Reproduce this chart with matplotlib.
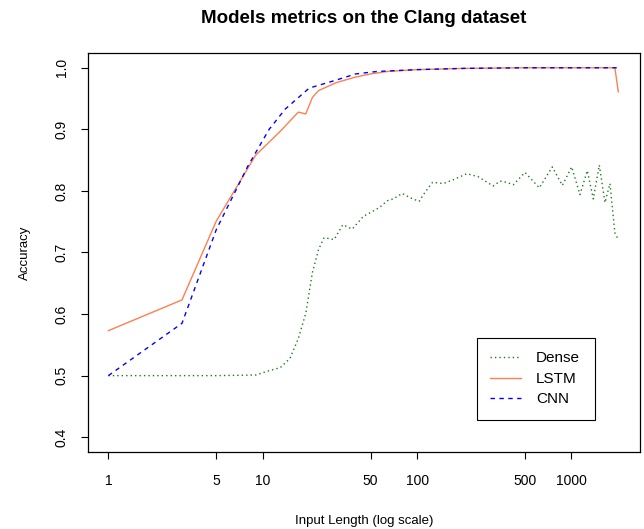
import matplotlib
matplotlib.use("Agg")
import matplotlib.pyplot as plt

plt.rcParams['font.family'] = ['Liberation Sans', 'DejaVu Sans']

# input lengths and accuracies
dense_len = [1, 3, 5, 9, 11, 13, 15, 17, 19, 21, 23, 25, 29, 33, 38, 45,
             50, 57, 64, 70, 80, 90, 103, 112, 126, 148, 171, 210, 249, 311,
             345, 380, 420, 500, 619, 751, 872, 1003, 1135, 1266, 1384,
             1514, 1648, 1775, 1910, 2010]
dense_acc = [0.500, 0.500, 0.500, 0.501, 0.508, 0.513, 0.528, 0.560, 0.601,
             0.668, 0.705, 0.724, 0.721, 0.745, 0.738, 0.759, 0.765, 0.773,
             0.784, 0.787, 0.796, 0.789, 0.783, 0.797, 0.814, 0.812, 0.818,
             0.828, 0.823, 0.808, 0.816, 0.814, 0.810, 0.830, 0.805, 0.839,
             0.809, 0.839, 0.794, 0.833, 0.787, 0.842, 0.781, 0.812, 0.732,
             0.721]

lstm_len = [1, 3, 5, 9, 13, 17, 19, 21, 23, 30, 40, 50, 64, 100, 200, 500,
            1910, 2010]
lstm_acc = [0.573, 0.623, 0.751, 0.858, 0.897, 0.928, 0.925, 0.952, 0.963,
            0.976, 0.985, 0.990, 0.994, 0.997, 0.999, 1.000, 1.000, 0.961]

cnn_len = [1, 3, 5, 8, 11, 14, 20, 29, 40, 55, 100, 200, 500, 2010]
cnn_acc = [0.500, 0.585, 0.737, 0.840, 0.900, 0.933, 0.967, 0.979, 0.990,
           0.994, 0.997, 0.999, 1.000, 1.000]

xticks = [1, 5, 10, 50, 100, 500, 1000]
yticks = [0.4, 0.5, 0.6, 0.7, 0.8, 0.9, 1.0]

fig = plt.figure(figsize=(6.44, 5.29), dpi=100)
ax = fig.add_axes([0.1366, 0.1456, 0.857, 0.7542])

ax.plot(dense_len, dense_acc, color="#1a7a1a", lw=1.0, dashes=(1, 2.2), label="Dense")
ax.plot(lstm_len, lstm_acc, color="coral", lw=1.0, label="LSTM")
ax.plot(cnn_len, cnn_acc, color="blue", lw=1.0, dashes=(3.2, 3.2), label="CNN")

ax.set_xscale("log")
ax.set_xlim(10 ** -0.132, 10 ** 3.443)
ax.set_ylim(0.376, 1.024)
ax.set_xticks(xticks)
ax.set_xticklabels([str(t) for t in xticks])
ax.minorticks_off()
ax.set_yticks(yticks)
ax.set_yticklabels(["%.1f" % t for t in yticks], rotation=90, va="center")
ax.tick_params(axis="x", length=5, width=0.8, pad=11, labelsize=10)
ax.tick_params(axis="y", length=5, width=0.8, pad=9, labelsize=10)
for s in ax.spines.values():
    s.set_linewidth(0.9)

ax.set_xlabel("Input Length (log scale)", fontsize=9.5, labelpad=19)
ax.set_ylabel("Accuracy", fontsize=9.5, labelpad=17)
ax.set_title("Models metrics on the Clang dataset", fontsize=13.5,
             fontweight="bold", y=1.0, pad=21.5)

leg = ax.legend(loc="lower left", bbox_to_anchor=(0.704, 0.08, 0.214, 0.22),
                mode="expand", borderaxespad=0, fontsize=11, fancybox=False,
                edgecolor="black", framealpha=1, handlelength=2.0,
                handletextpad=1.0, borderpad=0.9, labelspacing=0.42)
leg.get_frame().set_linewidth(0.8)

fig.savefig("out.png", dpi=100)
